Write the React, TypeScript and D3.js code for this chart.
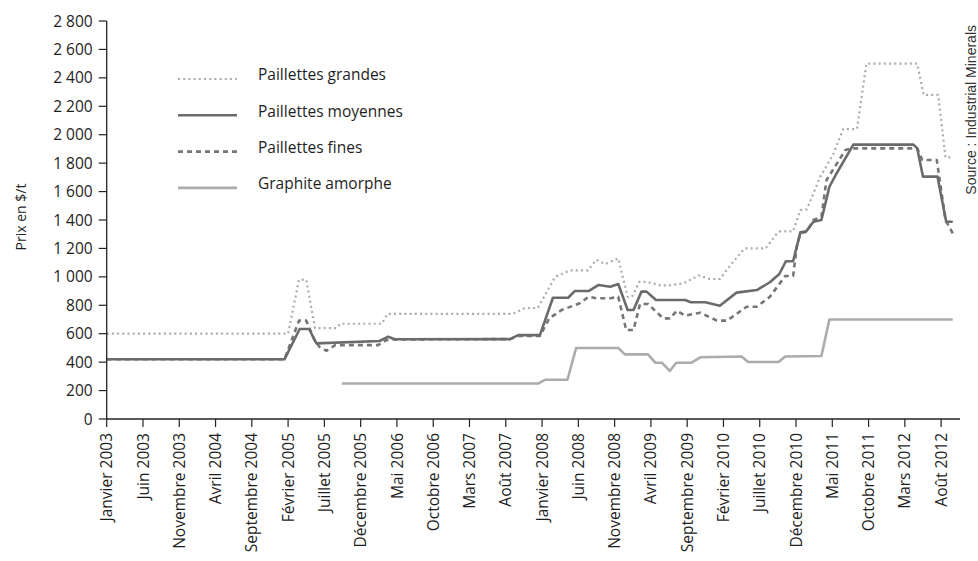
import React from "react";
import * as d3 from "d3";

// months counted from January 2003 (t = 0)
const tickMonths = [0, 5, 10, 15, 20, 25, 30, 35, 40, 45, 50, 55, 60, 65, 70, 75, 80, 85, 90, 95, 100, 105, 110, 115];
const tickLabels = [
  "Janvier 2003", "Juin 2003", "Novembre 2003", "Avril 2004", "Septembre 2004", "Février 2005",
  "Juillet 2005", "Décembre 2005", "Mai 2006", "Octobre 2006", "Mars 2007", "Août 2007",
  "Janvier 2008", "Juin 2008", "Novembre 2008", "Avril 2009", "Septembre 2009", "Février 2010",
  "Juillet 2010", "Décembre 2010", "Mai 2011", "Octobre 2011", "Mars 2012", "Août 2012",
];
const yTicks = [0, 200, 400, 600, 800, 1000, 1200, 1400, 1600, 1800, 2000, 2200, 2400, 2600, 2800];

const grandesT = [0, 25, 26.5, 27.5, 28.7, 31.7, 32.2, 37.9, 38.7, 56, 57.6, 59.4, 61.8, 63.8, 66.3, 67.5, 68.7, 70.5, 71.8, 72.4, 73.4, 74.4, 76.3, 77.6, 79.5, 81.6, 83.1, 84.5, 86.4, 87.9, 90.8, 92.3, 92.8, 94.6, 95.6, 96.5, 98.3, 100.2, 101.5, 103.4, 104.7, 111.7, 112.6, 114.6, 115.6, 116.6];
const grandesV = [600, 600, 980, 980, 640, 640, 670, 670, 740, 740, 780, 780, 1000, 1045, 1045, 1120, 1090, 1130, 860, 860, 965, 965, 940, 940, 955, 1010, 985, 985, 1110, 1200, 1200, 1300, 1320, 1320, 1470, 1475, 1700, 1870, 2040, 2040, 2500, 2500, 2280, 2280, 1840, 1840];

const moyennesT = [0, 24.5, 26.6, 27.9, 28.9, 37.6, 38.8, 39.7, 55.6, 56.7, 59.7, 61.5, 63.6, 64.5, 66.4, 67.8, 69.4, 70.5, 71.8, 72.6, 73.7, 74.4, 75.7, 79.7, 80.5, 82.5, 84.5, 86.8, 89.6, 91.4, 92.7, 93.6, 94.6, 95.6, 96.4, 97.4, 98.5, 99.6, 100.5, 102.9, 111.2, 111.7, 112.5, 114.5, 115.7, 116.6];
const moyennesV = [420, 420, 633, 633, 532, 549, 579, 561, 562, 590, 590, 853, 853, 900, 900, 943, 931, 950, 767, 767, 896, 896, 837, 837, 821, 821, 797, 889, 907, 962, 1020, 1110, 1110, 1313, 1320, 1388, 1400, 1634, 1720, 1930, 1930, 1904, 1705, 1705, 1388, 1388];

const finesT = [0, 24.5, 26.5, 27.5, 28.6, 29.3, 30.3, 31.5, 37.4, 38.6, 39.7, 55.6, 56.7, 59.7, 61, 62.7, 65.2, 66.4, 67.5, 69.4, 70.5, 71.6, 72.6, 73.5, 74.6, 76.7, 77.6, 78.6, 79.7, 81.8, 84.1, 85.5, 88.2, 89.6, 91.4, 92.6, 93.5, 94.6, 95.1, 95.6, 96.5, 97.4, 98.5, 99.2, 101.8, 102.7, 111.7, 112.4, 114.4, 115.6, 116.6];
const finesV = [420, 420, 692, 692, 560, 508, 480, 520, 520, 556, 560, 562, 584, 584, 708, 767, 814, 860, 849, 849, 860, 626, 626, 809, 809, 708, 708, 762, 727, 748, 692, 692, 790, 790, 860, 943, 1006, 1006, 1212, 1306, 1318, 1400, 1423, 1681, 1892, 1904, 1904, 1822, 1822, 1400, 1306];

const amorpheT = [32.4, 59.5, 60.4, 63.5, 64.7, 70.5, 71.4, 74.6, 75.6, 76.5, 77.6, 78.5, 80.6, 81.8, 87.5, 88.4, 92.6, 93.5, 98.5, 99.6, 116.6];
const amorpheV = [250, 250, 276, 276, 500, 500, 455, 455, 396, 396, 338, 396, 396, 434, 440, 401, 401, 440, 443, 700, 700];

const seriesNames = ["Paillettes grandes", "Paillettes moyennes", "Paillettes fines", "Graphite amorphe"];

const W = 978;
const H = 561;
const x0 = 106.7;
const x1 = 960;
const yTop = 21;
const yBot = 419;

export default function App() {
  const x = d3.scaleLinear().domain([0, 117.6]).range([x0, x1]);
  const y = d3.scaleLinear().domain([0, 2800]).range([yBot, yTop]);
  const fmt = d3.formatLocale({ decimal: ",", thousands: "\u00a0", grouping: [3], currency: ["", "$"] }).format(",d");
  const line = d3
    .line<[number, number]>()
    .x((d) => x(d[0]))
    .y((d) => y(d[1]));
  const zip = (t: number[], v: number[]) => t.map((ti, i) => [ti, v[i]] as [number, number]);

  const styles = [
    { stroke: "#ababab", width: 2.2, dash: "2,3.2" },
    { stroke: "#6b6b6b", width: 2.6, dash: "" },
    { stroke: "#767676", width: 2.6, dash: "5,4" },
    { stroke: "#acacac", width: 2.6, dash: "" },
  ];
  const data = [zip(grandesT, grandesV), zip(moyennesT, moyennesV), zip(finesT, finesV), zip(amorpheT, amorpheV)];
  const drawOrder = [3, 0, 2, 1];
  const font = "'Open Sans', sans-serif";

  return (
    <svg width={W} height={H} style={{ position: "absolute", left: 0, top: 0, background: "#fff" }}>
      {/* series */}
      {drawOrder.map((i) => (
        <path
          key={i}
          d={line(data[i]) || ""}
          fill="none"
          stroke={styles[i].stroke}
          strokeWidth={styles[i].width}
          strokeDasharray={styles[i].dash || undefined}
          strokeLinejoin="round"
        />
      ))}
      {/* axes */}
      <line x1={x0} x2={x0} y1={yTop} y2={yBot} stroke="#222" strokeWidth={1.3} />
      <line x1={x0} x2={x1} y1={yBot} y2={yBot} stroke="#222" strokeWidth={1.3} />
      {yTicks.map((v) => (
        <g key={v}>
          <line x1={x0 - 8} x2={x0} y1={y(v)} y2={y(v)} stroke="#222" strokeWidth={1.2} />
          <text x={x0 - 14} y={y(v)} dy="0.36em" textAnchor="end" fontFamily={font} fontSize={15.5} fill="#1e1e1e">
            {fmt(v)}
          </text>
        </g>
      ))}
      {tickMonths.map((m, i) => (
        <g key={m}>
          <line x1={x(m)} x2={x(m)} y1={yBot} y2={yBot + 8} stroke="#222" strokeWidth={1.2} />
          <text
            transform={`translate(${x(m)},${yBot + 14}) rotate(-90)`}
            dy="0.36em"
            textAnchor="end"
            fontFamily={font}
            fontSize={15.5}
            fill="#1e1e1e"
          >
            {tickLabels[i]}
          </text>
        </g>
      ))}
      <text transform="translate(21,217) rotate(-90)" dy="0.35em" textAnchor="middle" fontFamily={font} fontSize={14} fill="#1e1e1e">
        Prix en $/t
      </text>
      {/* legend */}
      {seriesNames.map((n, i) => (
        <g key={n} transform={`translate(0,${79 + i * 36.3})`}>
          <line
            x1={178}
            x2={237}
            y1={0}
            y2={0}
            stroke={styles[i].stroke}
            strokeWidth={styles[i].width}
            strokeDasharray={styles[i].dash || undefined}
          />
          <text x={258} y={-4} dy="0.35em" fontFamily={font} fontSize={15.5} fill="#1e1e1e">
            {n}
          </text>
        </g>
      ))}
      <text
        transform="translate(971,25) rotate(-90)"
        dy="0.35em"
        textAnchor="end"
        fontFamily="'Liberation Sans', Arial, sans-serif"
        fontSize={14}
        fill="#333"
      >
        Source : Industrial Minerals
      </text>
    </svg>
  );
}
